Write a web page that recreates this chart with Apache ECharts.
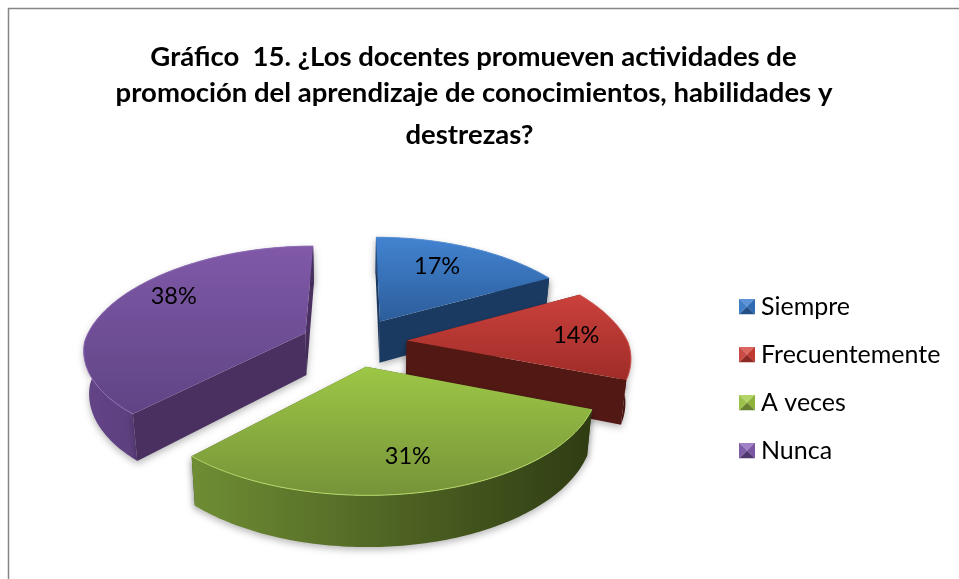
<!DOCTYPE html>
<html><head><meta charset="utf-8">
<style>html,body{margin:0;padding:0;background:#fff}#c{width:959px;height:579px}</style>
<script src="https://cdn.jsdelivr.net/npm/echarts@6/dist/echarts.min.js"></script>
</head><body><div id="c"></div>
<script>
const categories = ['Siempre','Frecuentemente','A veces','Nunca'];
const values = [17,14,31,38];
const titleLines = ['Gráfico  15. ¿Los docentes promueven actividades de','promoción del aprendizaje de conocimientos, habilidades y','destrezas?'];

const total = values.reduce((a,b)=>a+b,0);
const FONT = 'Lato, Carlito, "Open Sans", sans-serif';
// projection of the tilted pie
const P = {cx:354, cy:342, A:221, B:102, p:0.145, pxBack:0.19, h:42.5, e:0.24, foot:0.98};
const skins = [
 {top:['#4283d0','#2c5d9b'], wall:['#24497a','#1a3a62'], radial:'#1b3a62', edge:'#5a93d6', icon:['#5b93d6','#2f6bb0','#234f86','#3f7fc8']},
 {top:['#cb413c','#9f2c28'], wall:['#6a1f1b','#4c1512'], radial:'#521814', edge:'#d8605b', icon:['#dc6560','#c0392f','#8f2723','#c94a45']},
 {top:['#9dc746','#769339'], wall:['#6f8d34','#2f3c13'], radial:'#46591d', edge:'#b5d96a', icon:['#b4d566','#8fb23c','#66802e','#9cc14a']},
 {top:['#8059a8','#5f4485'], wall:['#634488','#46305f'], radial:'#4a3060', edge:'#8f6cb5', icon:['#a182c6','#7a56a3','#50386f','#7e5ca8']}
];
const labelTune = [{r:0.70,da:-4},{r:0.78,da:0},{r:0.75,da:0.5},{r:0.77,da:8.5}];
const titleSlots = [{left:473.5,top:40},{left:474,top:76},{left:469.5,top:118}];

function project(X,Y,down){
  const s = 1/(1+P.p*Y);
  const sx = Y>0 ? 1/(1+P.pxBack*Y) : s;
  const dx = P.A*X*sx;
  return [P.cx+dx*(down?P.foot:1), P.cy-P.B*Y*s+(down?P.h*s:0)];
}
const rad = d=>d*Math.PI/180;
function linear(c,horizontal){
  return {type:'linear',x:0,y:0,x2:horizontal?1:0,y2:horizontal?0:1,
    colorStops:[{offset:0,color:c[0]},{offset:1,color:c[1]}]};
}
function renderSlice(params,api){
  const i = params.seriesIndex;
  const v = api.value(0);
  let before = 0; for(let k=0;k<i;k++) before += values[k];
  const a0 = before/total*360, a1 = (before+v)/total*360, m=(a0+a1)/2;
  const ox = P.e*Math.sin(rad(m)), oy = P.e*Math.cos(rad(m));
  const pt=(a,r,down)=>project(ox+r*Math.sin(rad(a)),oy+r*Math.cos(rad(a)),down);
  const arcTop=[],arcBot=[];
  const n=Math.max(8,Math.ceil(a1-a0));
  for(let k=0;k<=n;k++){const a=a0+(a1-a0)*k/n;arcTop.push(pt(a,1,false));arcBot.push(pt(a,1,true));}
  const sk=skins[i];
  const apexT=pt(0,0,false), apexB=pt(0,0,true);
  const shadow={shadowBlur:7,shadowColor:'rgba(0,0,0,0.28)',shadowOffsetY:3};
  const face=(top,bot)=>({type:'polygon',shape:{points:[apexT,top,bot,apexB]},style:Object.assign({fill:sk.radial},shadow)});
  const f0=face(arcTop[0],arcBot[0]), f1=face(arcTop[n],arcBot[n]);
  const f0Front=Math.sin(rad(a0))<-1e-6, f1Front=Math.sin(rad(a1))>1e-6;
  const kids=[];
  if(!f0Front) kids.push(f0);
  if(!f1Front) kids.push(f1);
  kids.push({type:'polygon',shape:{points:arcTop.concat(arcBot.slice().reverse())},style:Object.assign({fill:linear(sk.wall,true)},shadow)});
  if(f0Front) kids.push(f0);
  if(f1Front) kids.push(f1);
  kids.push({type:'polygon',shape:{points:[apexT].concat(arcTop)},style:{fill:linear(sk.top,false)}});
  kids.push({type:'polyline',shape:{points:arcTop},style:{fill:null,stroke:sk.edge,lineWidth:1}});
  const t=labelTune[i];
  const lp=pt(m+t.da,t.r,false);
  kids.push({type:'text',style:{text:Math.round(v/total*100)+'%',x:lp[0],y:lp[1],align:'center',verticalAlign:'middle',
    font:'23.5px '+FONT,fill:'#000'}});
  return {type:'group',children:kids};
}
function iconUri(c){
  const svg="<svg xmlns='http://www.w3.org/2000/svg' width='16' height='16'>"+
   "<polygon points='0,0 16,0 8,8' fill='"+c[0]+"'/><polygon points='16,0 16,16 8,8' fill='"+c[1]+"'/>"+
   "<polygon points='0,16 16,16 8,8' fill='"+c[2]+"'/><polygon points='0,0 0,16 8,8' fill='"+c[3]+"'/></svg>";
  return 'image://data:image/svg+xml;utf8,'+encodeURIComponent(svg);
}
const chart=echarts.init(document.getElementById('c'),null,{renderer:'canvas'});
chart.setOption({
  animation:false,
  backgroundColor:'#fff',
  title:titleLines.map((t,i)=>({text:t,left:titleSlots[i].left,top:titleSlots[i].top,textAlign:'center',padding:0,
    textStyle:{fontFamily:FONT,fontWeight:'bold',fontSize:27.5,lineHeight:34,color:'#000'}})),
  legend:{orient:'vertical',left:739,top:294,padding:0,itemWidth:16,itemHeight:16,itemGap:23,
    textStyle:{fontFamily:FONT,fontSize:25,lineHeight:20,color:'#000',padding:[0,0,0,1]},
    data:categories.map((n,i)=>({name:n,icon:iconUri(skins[i].icon)}))},
  graphic:[{type:'rect',shape:{x:8.5,y:8.5,width:1100,height:800},style:{fill:null,stroke:'#868686',lineWidth:1.5},silent:true}],
  series:categories.map((n,i)=>({type:'custom',name:n,coordinateSystem:'none',renderItem:renderSlice,
    itemStyle:{color:skins[i].top[0]},data:[[values[i]]]}))
});
</script></body></html>
